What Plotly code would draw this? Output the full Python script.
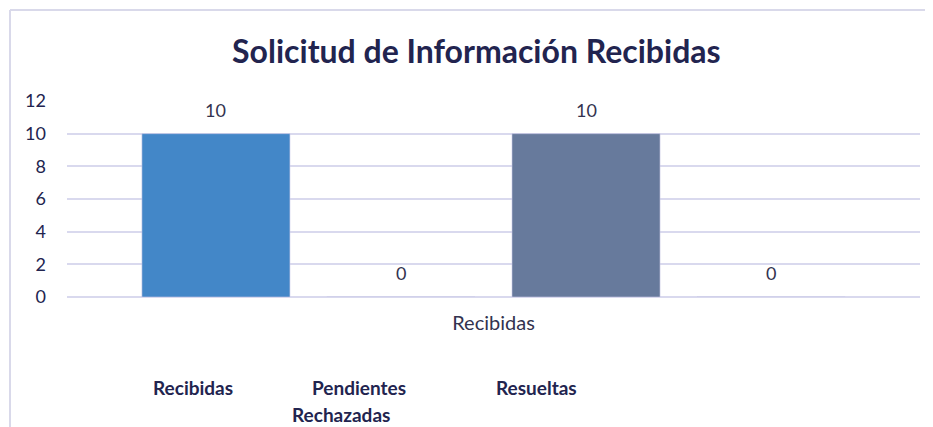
import plotly.graph_objects as go

category = "Recibidas"
series_order = ["Recibidas", "Pendientes", "Resueltas", "Rechazadas"]
values = [10, 0, 10, 0]
colors = ["#4387c8", "#c0504d", "#677a9c", "#9bbb59"]
y_ticks = [0, 2, 4, 6, 8, 10, 12]

NAVY = "#22244f"
FONT = "Lato"

fig = go.Figure()
fig.add_trace(go.Bar(
    x=series_order, y=values,
    marker=dict(color=colors, line=dict(width=1, color="rgba(200,200,230,0.6)")),
    showlegend=False,
))

# data labels
for name, v in zip(series_order, values):
    fig.add_annotation(x=name, y=v, xref="x", yref="y", text=str(v), showarrow=False,
                       yshift=24, yanchor="middle",
                       font=dict(family=FONT, size=18, color="#33334f"))

# legend-like labels (series names)
legend_pos = {"Recibidas": (0.148, -0.464), "Pendientes": (0.342, -0.464),
              "Resueltas": (0.550, -0.464), "Rechazadas": (0.321, -0.597)}
for name in series_order:
    x, y = legend_pos[name]
    fig.add_annotation(text="<b>%s</b>" % name, x=x, y=y, xref="paper", yref="paper",
                       xanchor="center", yanchor="middle", showarrow=False,
                       font=dict(family=FONT, size=19, color=NAVY))

# frame
fig.add_shape(type="line", xref="paper", yref="paper", x0=-0.0668, x1=1.03, y0=1.464, y1=1.464,
              line=dict(color="#d9d9ea", width=2))
fig.add_shape(type="line", xref="paper", yref="paper", x0=-0.0668, x1=-0.0668, y0=1.464, y1=-0.75,
              line=dict(color="#d9d9ea", width=2))

fig.update_layout(
    width=933, height=427,
    margin=dict(l=59, r=21, t=93, b=138),
    paper_bgcolor="white", plot_bgcolor="white",
    bargap=0.2,
    title=dict(text="<b>Solicitud de Información Recibidas</b>", x=0.502, xanchor="center",
               y=0.897, yanchor="middle",
               font=dict(family=FONT, size=32, color=NAVY)),
    xaxis=dict(range=[-0.805, 3.805], showgrid=False, showline=False, ticks="",
               showticklabels=False,
               title=dict(text=category, standoff=18,
                          font=dict(family=FONT, size=20, color="#33334f"))),
    yaxis=dict(range=[0, 12], tickvals=y_ticks, showgrid=True, gridcolor="#d9d9ee", gridwidth=2,
               zeroline=True, zerolinecolor="#d9d9ee", zerolinewidth=2,
               ticklabelstandoff=20,
               tickfont=dict(family=FONT, size=18, color=NAVY)),
    font=dict(family=FONT),
)

fig.write_html("out.html")
